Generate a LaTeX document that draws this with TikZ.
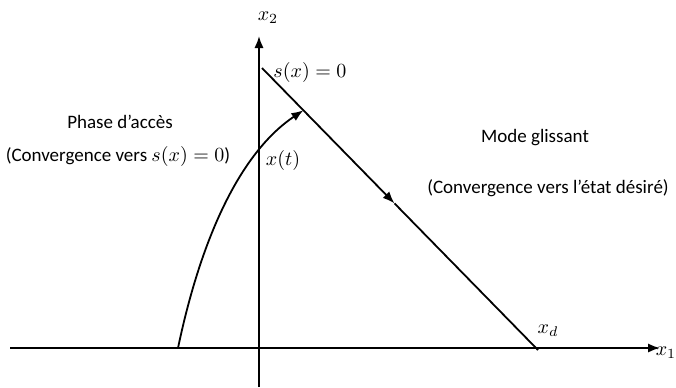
\documentclass[tikz,border=0pt]{standalone}
\usepackage{fontspec}
\setmainfont{Carlito}
\usepackage{tikz}
\usetikzlibrary{calc,arrows.meta}

\begin{document}
\begin{tikzpicture}[
  x=0.5pt, y=-0.5pt, font=\fontsize{9.5}{11}\selectfont,
  pline/.style={line width=0.9pt, draw=black},
  parr/.style={pline, -{Latex[length=6pt,width=4.6pt]}},
  plab/.style={inner sep=0pt, font=\fontsize{10}{12}\selectfont},
  ptxt/.style={inner sep=0pt, align=center},
]
  \useasboundingbox (0,0) rectangle (676,387);
  % 1. axes
  \coordinate (x1start) at (10,348);
  \coordinate (x1end) at (660,348);
  \coordinate (x2start) at (259,387);
  \coordinate (x2end) at (259,36);
  \draw[parr] (x1start) -- (x1end);
  \draw[parr] (x2start) -- (x2end);
  \node[plab] (x1lab) at (666,353) {$x_1$};
  \node[plab] (x2lab) at (268,18) {$x_2$};
  % 2. sliding surface
  \coordinate (s0) at (262,68);
  \coordinate (xd) at (538,350);
  \coordinate (smid) at ($(s0)!0.48!(xd)$);
  \coordinate (hit) at ($(s0)!0.15!(xd)$);
  \draw[parr] (s0) -- (smid);
  \draw[pline] (smid) -- (xd);
  \node[plab] (slab) at (310,72) {$s(x)=0$};
  \node[plab] (xdlab) at (548,331) {$x_d$};
  % 3. reaching trajectory
  \coordinate (c0) at (178,348);
  \draw[parr] (c0) .. controls (203,229) and (244,150) .. (hit);
  \node[plab] (xtlab) at (283,160) {$x(t)$};
  % 4. texts
  \node[ptxt] (phase) at (120,122) {Phase d'accès};
  \node[ptxt] (conv1) at (118,156) {(Convergence vers {\fontsize{10}{12}\selectfont$s(x)=0$})};
  \node[ptxt] (mode) at (535,138) {Mode glissant};
  \node[ptxt] (conv2) at (548,188) {(Convergence vers l'état désiré)};
\end{tikzpicture}
\end{document}
